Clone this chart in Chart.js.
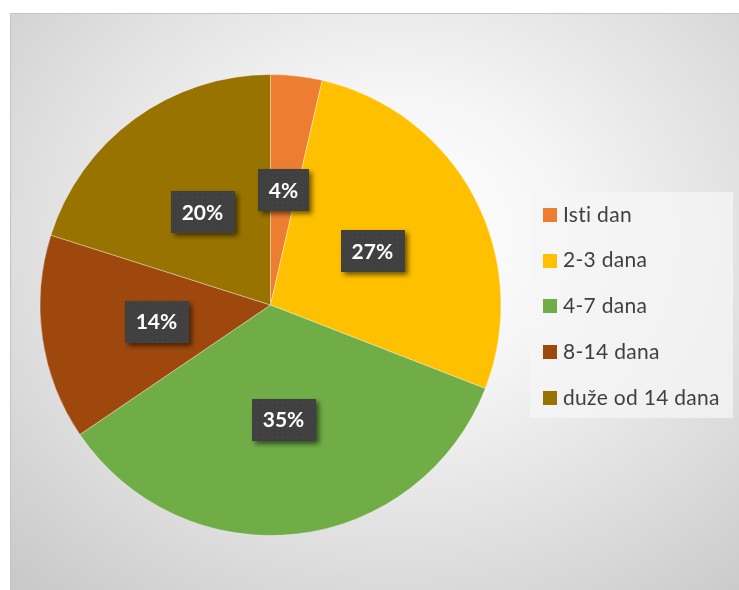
<!DOCTYPE html>
<html>
<head>
<meta charset="utf-8">
<script src="https://cdn.jsdelivr.net/npm/chart.js@4/dist/chart.umd.min.js"></script>
<style>
  html, body { margin: 0; padding: 0; background: #ffffff; }
  #wrap { position: relative; width: 739px; height: 590px; overflow: hidden; }
  #frame {
    position: absolute; left: 10px; top: 13px; width: 740px; height: 590px;
    border-left: 1px solid #c4c4c4; border-top: 1px solid #c4c4c4;
    background: radial-gradient(ellipse 75% 80% at 52% 38%, #ffffff 0%, #f6f6f6 30%, #e0e0e0 65%, #c9c9c9 100%);
  }
  canvas { position: absolute; left: 0; top: 0; }
</style>
</head>
<body>
<div id="wrap">
  <div id="frame"></div>
  <canvas id="c" width="739" height="590"></canvas>
</div>
<script>
const categories = ['Isti dan', '2-3 dana', '4-7 dana', '8-14 dana', 'duže od 14 dana'];
const values = [3.6, 27.3, 34.6, 14.4, 20.1];
const colors = ['#ED7D31', '#FFC000', '#70AD47', '#9E480E', '#997300'];

function makePattern(ctx) {
  const p = document.createElement('canvas');
  p.width = 5; p.height = 5;
  const pc = p.getContext('2d');
  pc.fillStyle = '#404040';
  pc.fillRect(0, 0, 5, 5);
  pc.fillStyle = '#4c4c4c';
  pc.fillRect(2, 2, 1, 1);
  return ctx.createPattern(p, 'repeat');
}

const labelPlugin = {
  id: 'boxLabels',
  afterDatasetsDraw(chart) {
    const ctx = chart.ctx;
    const meta = chart.getDatasetMeta(0);
    const data = chart.data.datasets[0].data;
    const total = data.reduce((a, b) => a + b, 0);
    const pattern = makePattern(ctx);
    ctx.save();
    ctx.font = 'bold 21px Lato';
    meta.data.forEach((arc, i) => {
      const p = arc.getProps(['x', 'y', 'startAngle', 'endAngle', 'outerRadius']);
      const mid = (p.startAngle + p.endAngle) / 2;
      const r = p.outerRadius * 0.5;
      const cx = p.x + Math.cos(mid) * r;
      const cy = p.y + Math.sin(mid) * r;
      const text = Math.round(data[i] / total * 100) + '%';
      const tw = ctx.measureText(text).width;
      const w = tw + 22, h = 42;
      ctx.save();
      ctx.shadowColor = 'rgba(0,0,0,0.55)';
      ctx.shadowBlur = 5;
      ctx.shadowOffsetX = 3;
      ctx.shadowOffsetY = 3;
      ctx.fillStyle = pattern;
      ctx.fillRect(Math.round(cx - w / 2), Math.round(cy - h / 2), Math.round(w), h);
      ctx.restore();
      ctx.fillStyle = '#ffffff';
      ctx.textAlign = 'center';
      ctx.textBaseline = 'middle';
      ctx.fillText(text, cx, cy + 1);
    });
    ctx.restore();
  }
};

const legendPlugin = {
  id: 'customLegend',
  afterDraw(chart) {
    const ctx = chart.ctx;
    ctx.save();
    ctx.fillStyle = 'rgba(246,246,246,0.75)';
    ctx.fillRect(530, 192, 203, 226);
    ctx.font = '21px Lato';
    ctx.letterSpacing = '0.3px';
    ctx.textBaseline = 'middle';
    ctx.textAlign = 'left';
    const ds = chart.data.datasets[0];
    chart.data.labels.forEach((lab, i) => {
      const y = 215 + i * 45.7;
      ctx.fillStyle = ds.backgroundColor[i];
      ctx.fillRect(543, Math.round(y - 7), 14, 14);
      ctx.fillStyle = '#404040';
      ctx.fillText(lab, 563, y);
    });
    ctx.restore();
  }
};

new Chart(document.getElementById('c'), {
  type: 'pie',
  data: {
    labels: categories,
    datasets: [{
      data: values,
      backgroundColor: colors,
      borderColor: 'rgba(255,255,255,0.35)',
      borderWidth: 1
    }]
  },
  options: {
    responsive: false,
    animation: false,
    layout: { padding: { top: 74, bottom: 54, left: 39, right: 237 } },
    plugins: {
      legend: { display: false },
      tooltip: { enabled: false }
    }
  },
  plugins: [labelPlugin, legendPlugin]
});
</script>
</body>
</html>
